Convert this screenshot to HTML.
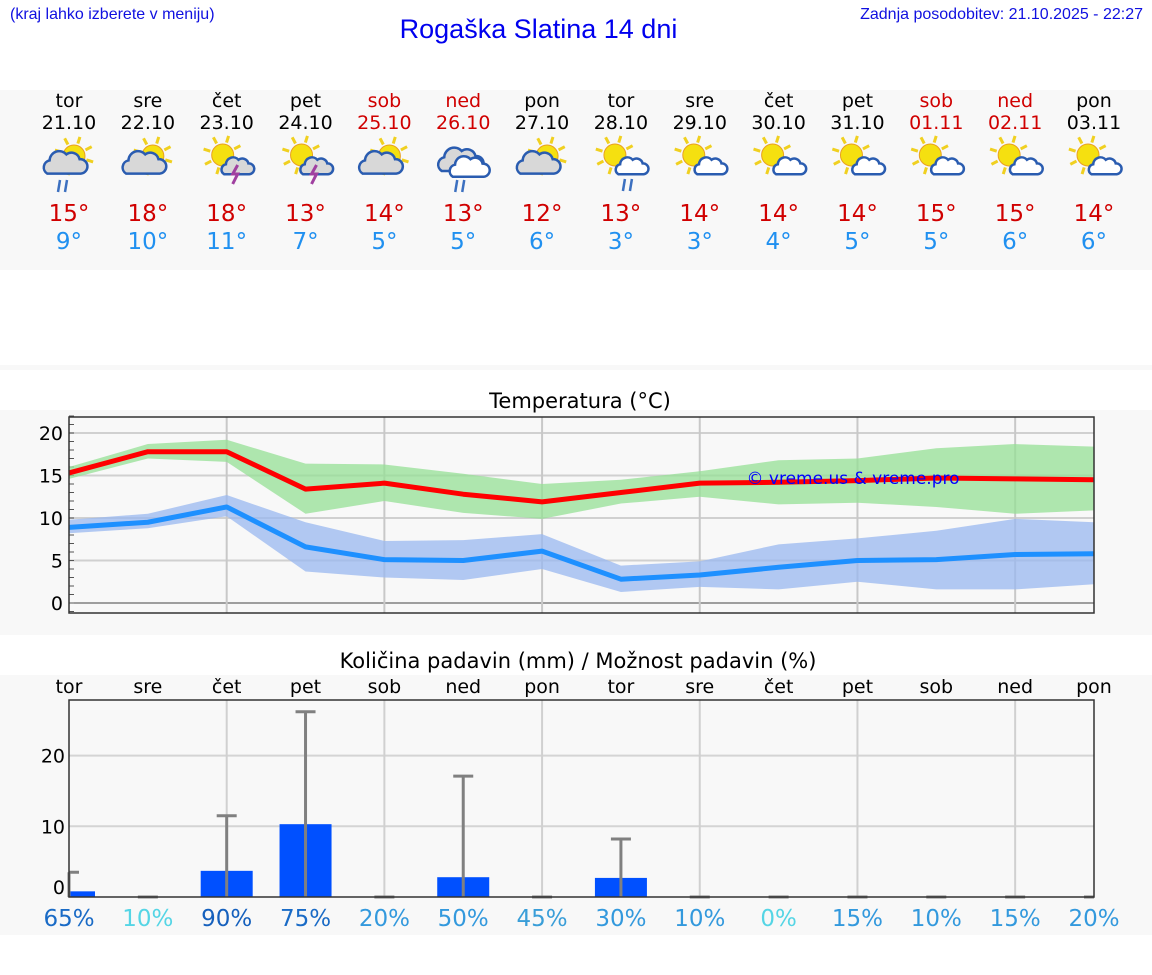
<!DOCTYPE html>
<html><head><meta charset="utf-8">
<style>
body{margin:0;width:1152px;height:975px;background:#fff;font-family:"DejaVu Sans","Liberation Sans",sans-serif;overflow:hidden;position:relative}
.a{position:absolute}
</style></head><body>
<div class="a" style="left:10px;top:6px;font:16px 'Liberation Sans',sans-serif;color:#1010e0">(kraj lahko izberete v meniju)</div>
<div class="a" style="left:0;width:1077px;top:14px;text-align:center;font:27px 'Liberation Sans',sans-serif;color:#0000ee">Rogaška Slatina 14 dni</div>
<div class="a" style="right:9px;top:6px;font:16px 'Liberation Sans',sans-serif;color:#1010e0">Zadnja posodobitev: 21.10.2025 - 22:27</div>
<svg class="a" style="left:0;top:0" width="1152" height="975" id="svg">
<rect x="0" y="90" width="1152" height="180" fill="#f8f8f8"/>
<rect x="0" y="365" width="1152" height="5" fill="#f8f8f8"/>
<rect x="0" y="410" width="1152" height="225" fill="#f8f8f8"/>
<rect x="0" y="675" width="1152" height="260" fill="#f8f8f8"/>
<text x="580" y="408" text-anchor="middle" font-size="21" fill="#000">Temperatura (°C)</text>
<text x="578" y="668" text-anchor="middle" font-size="21" fill="#000">Količina padavin (mm) / Možnost padavin (%)</text>
<g id="days"></g><g id="temp"></g><g id="prec"></g>
</svg>
<script>
const dayNames=["tor","sre","čet","pet","sob","ned","pon","tor","sre","čet","pet","sob","ned","pon"];
const dates=["21.10","22.10","23.10","24.10","25.10","26.10","27.10","28.10","29.10","30.10","31.10","01.11","02.11","03.11"];
const weekend=[0,0,0,0,1,1,0,0,0,0,0,1,1,0];
const icons=["sc-r","sc","st","st","sc","cc-r","sc","sw-r","sw","sw","sw","sw","sw","sw"];
const maxT=[15,18,18,13,14,13,12,13,14,14,14,15,15,14];
const minT=[9,10,11,7,5,5,6,3,3,4,5,5,6,6];
const tMax=[15.3,17.8,17.8,13.4,14.1,12.8,11.9,13.0,14.1,14.2,14.4,14.7,14.6,14.5];
const tMaxHi=[16,18.7,19.2,16.4,16.3,15.2,14,14.5,15.5,16.8,17,18.2,18.7,18.4];
const tMaxLo=[14.6,17,16.6,10.5,12,10.6,9.9,11.7,12.5,11.6,11.8,11.3,10.5,10.9];
const tMin=[8.9,9.5,11.3,6.6,5.1,5.0,6.1,2.8,3.3,4.2,5.0,5.1,5.7,5.8];
const tMinHi=[9.8,10.5,12.7,9.5,7.3,7.4,8.1,4.4,4.9,6.9,7.6,8.5,9.9,9.5];
const tMinLo=[8.2,8.8,10.2,3.7,3.0,2.7,4.0,1.3,1.9,1.6,2.5,1.6,1.6,2.2];
const tempTicks=[0,5,10,15,20];
const precip=[0.8,0,3.7,10.3,0,2.8,0,2.7,0,0,0,0,0,0];
const precipMax=[3.5,0,11.5,26.2,0,17.1,0,8.2,0,0,0,0,0,0];
const chance=[65,10,90,75,20,50,45,30,10,0,15,10,15,20];
const precipTicks=[0,10,20];
const NS="http://www.w3.org/2000/svg";
function el(p,t,a){const e=document.createElementNS(NS,t);for(const k in a)e.setAttribute(k,a[k]);p.appendChild(e);return e;}
const X=i=>69+i*(1025/13);
const yT=v=>603-v*8.5;
const yP=v=>897-v*7.07;
const D=document.getElementById('days'),T=document.getElementById('temp'),P=document.getElementById('prec');
function sun(g,x,y,r){const s=el(g,'g',{});for(let k=0;k<8;k++){const a=k*Math.PI/4+0.3;el(s,'line',{x1:x+Math.cos(a)*(r+2),y1:y+Math.sin(a)*(r+2),x2:x+Math.cos(a)*(r+9),y2:y+Math.sin(a)*(r+9),stroke:'#f0d020','stroke-width':3});}el(s,'circle',{cx:x,cy:y,r:r,fill:'#f5e010',stroke:'#e8a020','stroke-width':1});}
function cloud(g,x,y,s,fill){const p=`M${x-14*s},${y+8*s} a${6*s},${6*s} 0 0 1 ${2*s},${-11*s} a${8*s},${8*s} 0 0 1 ${14*s},${-5*s} a${7*s},${7*s} 0 0 1 ${11*s},${4*s} a${5*s},${5*s} 0 0 1 ${1*s},${12*s} z`;el(g,'path',{d:p,fill:fill,stroke:'#2a5cb0','stroke-width':2.5});}
function rain(g,x,y){el(g,'line',{x1:x,y1:y,x2:x-2,y2:y+12,stroke:'#3c70c0','stroke-width':2.5});el(g,'line',{x1:x+7,y1:y,x2:x+5,y2:y+12,stroke:'#3c70c0','stroke-width':2.5});}
function bolt(g,x,y){el(g,'path',{d:`M${x+3},${y} l-5,9 h5 l-5,10`,fill:'none',stroke:'#a040a0','stroke-width':3});}
for(let i=0;i<14;i++){
  const x=X(i),c=weekend[i]?'#d00000':'#000';
  const n=el(D,'text',{x:x,y:107,'text-anchor':'middle','font-size':19,fill:c});n.textContent=dayNames[i];
  
  
  const d=el(D,'text',{x:x,y:129,'text-anchor':'middle','font-size':19,fill:c});d.textContent=dates[i];
  
  
  const g=el(D,'g',{});
  
  
  const t=icons[i];
  if(t.startsWith('sc')){sun(g,x+5,156,11);cloud(g,x-5,164,1.2,'#d8d8d8');if(t.endsWith('-r'))rain(g,x-9,180);}
  else if(t.startsWith('st')){sun(g,x-4,155,11);cloud(g,x+10,167,0.9,'#d8d8d8');bolt(g,x+8,165);}
  else if(t.startsWith('sw')){sun(g,x-6,155,11);cloud(g,x+10,167,0.9,'#fff');if(t.endsWith('-r'))rain(g,x+4,179);}
  else {cloud(g,x-4,161,1.25,'#d8d8d8');cloud(g,x+5,168,1.1,'#fff');rain(g,x-6,180);}
  const mx=el(D,'text',{x:x,y:221,'text-anchor':'middle','font-size':23,fill:'#d00000'});mx.textContent=maxT[i]+'°';
  
  
  const mn=el(D,'text',{x:x,y:249,'text-anchor':'middle','font-size':23,fill:'#2090f0'});mn.textContent=minT[i]+'°';
  
  
}
el(T,'rect',{x:69,y:417,width:1025,height:196,fill:'#f8f8f8'});
tempTicks.forEach(v=>{el(T,'line',{x1:69,x2:1094,y1:yT(v),y2:yT(v),stroke:v==0?'#444':'#d0d0d0','stroke-width':v==0?1:2});
 const t=el(T,'text',{x:63,y:yT(v)+7,'text-anchor':'end','font-size':19,fill:'#000'});t.textContent=v;
 
 });
for(let v=-1;v<=22;v++)el(T,'line',{x1:69,x2:74,y1:yT(v),y2:yT(v),stroke:'#555','stroke-width':1});
for(let i=2;i<13;i+=2)el(T,'line',{x1:X(i),x2:X(i),y1:417,y2:613,stroke:'#c8c8c8','stroke-width':2});
function band(hi,lo,col,name){let d='M'+hi.map((v,i)=>X(i)+','+yT(v)).join(' L')+' L'+lo.map((v,i)=>X(i)+','+yT(v)).reverse().join(' L')+'Z';
 const p=el(T,'path',{d:d,fill:col,opacity:0.75});}
band(tMaxHi,tMaxLo,'#96e096','max-temp-range');
band(tMinHi,tMinLo,'#9ab8f0','min-temp-range');
function line(vals,col,name){const p=el(T,'polyline',{points:vals.map((v,i)=>X(i)+','+yT(v)).join(' '),fill:'none',stroke:col,'stroke-width':5,'stroke-linejoin':'round'});
 }
line(tMax,'#ff0000','max-temp-line');
line(tMin,'#1e90ff','min-temp-line');
el(T,'rect',{x:69,y:417,width:1025,height:196,fill:'none',stroke:'#333','stroke-width':1.5});
const wm=el(T,'text',{x:853,y:484,'text-anchor':'middle','font-size':17,fill:'#0000ff'});wm.textContent='© vreme.us & vreme.pro';


el(P,'rect',{x:69,y:700,width:1025,height:197,fill:'#f8f8f8'});
precipTicks.forEach(v=>{if(v>0)el(P,'line',{x1:69,x2:1094,y1:yP(v),y2:yP(v),stroke:'#d4d4d4','stroke-width':2});
 const t=el(P,'text',{x:65,y:yP(v)+(v==0?-3:7),'text-anchor':'end','font-size':19,fill:'#000'});t.textContent=v;
 
 });
for(let i=2;i<13;i+=2)el(P,'line',{x1:X(i),x2:X(i),y1:700,y2:897,stroke:'#d0d0d0','stroke-width':2});
const pcol=['#1a6bc6','#55d5e5','#1560bd','#1a6bc6','#3399dd','#3399dd','#3a9ed8','#3399dd','#3399dd','#55d5e5','#3399dd','#3399dd','#3399dd','#3399dd'];
for(let i=0;i<14;i++){
 const x=X(i);
 const dn=el(P,'text',{x:x,y:693,'text-anchor':'middle','font-size':19,fill:'#000'});dn.textContent=dayNames[i];
 
 
 if(precip[i]>0){const x0=Math.max(69,x-26),x1=Math.min(1094,x+26);
  const b=el(P,'rect',{x:x0,y:yP(precip[i]),width:x1-x0,height:yP(0)-yP(precip[i]),fill:'#0050ff'});
  
  }
 const e=el(P,'g',{});
 
 
 el(e,'line',{x1:x,x2:x,y1:yP(precipMax[i]),y2:yP(0),stroke:'#808080','stroke-width':3});
 el(e,'line',{x1:Math.max(69,x-10),x2:Math.min(1094,x+10),y1:yP(precipMax[i]),y2:yP(precipMax[i]),stroke:'#808080','stroke-width':3});
 const c=el(P,'text',{x:x,y:926,'text-anchor':'middle','font-size':23,fill:pcol[i]});c.textContent=chance[i]+'%';
 
 
}
el(P,'rect',{x:69,y:700,width:1025,height:197,fill:'none',stroke:'#333','stroke-width':1.5});
</script>
</body></html>
